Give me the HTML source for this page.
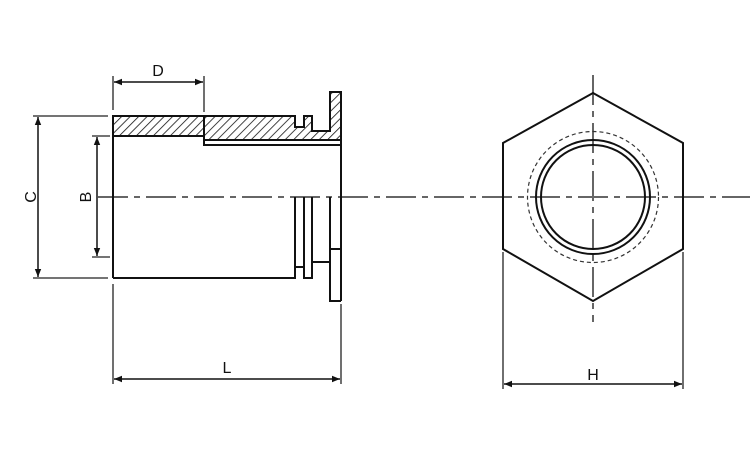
<!DOCTYPE html>
<html><head><meta charset="utf-8"><style>html,body{margin:0;padding:0;background:#fff}svg{display:block}</style></head><body>
<svg width="750" height="450" viewBox="0 0 750 450" xmlns="http://www.w3.org/2000/svg" font-family="Liberation Sans, sans-serif">
<defs>
<pattern id="h" patternUnits="userSpaceOnUse" width="6" height="6" patternTransform="rotate(45)">
<line x1="0" y1="0" x2="0" y2="6" stroke="#111" stroke-width="1.6"/></pattern>
<marker id="a" viewBox="0 0 10 10" refX="10" refY="5" markerWidth="14" markerHeight="8" markerUnits="userSpaceOnUse" orient="auto-start-reverse"><path d="M0,1 L10,5 L0,9z" fill="#111"/></marker>
</defs>
<g stroke="#666" stroke-width="2" stroke-dasharray="30,6,6,6">
<line x1="98" y1="197" x2="750" y2="197"/>
<line x1="593" y1="75" x2="593" y2="322"/>
</g>
<path d="M113,116 H295 V127 H304 V116 H312 V131 H330 V92 H341 V140 H204 V136 H113 Z" fill="url(#h)" stroke="#111" stroke-width="2"/>
<g fill="none" stroke="#111" stroke-width="2">
<rect x="204" y="140" width="137" height="5"/>
<line x1="204" y1="116" x2="204" y2="140"/>
<line x1="113" y1="136" x2="113" y2="278"/>
<line x1="341" y1="145" x2="341" y2="301"/>
<path d="M113,278 H295 V197"/>
<path d="M295,267 H304"/>
<path d="M304,197 V278 H312 V197"/>
<path d="M312,262 H330"/>
<path d="M330,197 V301 H341"/>
<path d="M330,249 H341"/>
<polygon points="593,93 683,143 683,249 593,301 503,249 503,143"/>
<circle cx="593" cy="197" r="57"/>
<circle cx="593" cy="197" r="52"/>
</g>
<circle cx="593" cy="197" r="65.5" fill="none" stroke="#333" stroke-width="1.2" stroke-dasharray="4,3"/>
<g stroke="#222" stroke-width="1.3">
<line x1="33" y1="116" x2="108" y2="116"/>
<line x1="33" y1="278" x2="108" y2="278"/>
<line x1="92" y1="136" x2="110" y2="136"/>
<line x1="92" y1="257" x2="110" y2="257"/>
<line x1="113" y1="76" x2="113" y2="110"/>
<line x1="204" y1="76" x2="204" y2="112"/>
<line x1="113" y1="284" x2="113" y2="384"/>
<line x1="341" y1="304" x2="341" y2="384"/>
<line x1="503" y1="252" x2="503" y2="389"/>
<line x1="683" y1="252" x2="683" y2="389"/>
</g>
<g stroke="#111" stroke-width="1.5" marker-start="url(#a)" marker-end="url(#a)">
<line x1="38" y1="117" x2="38" y2="277"/>
<line x1="97" y1="137" x2="97" y2="256"/>
<line x1="114" y1="82" x2="203" y2="82"/>
<line x1="114" y1="379" x2="340" y2="379"/>
<line x1="504" y1="384" x2="682" y2="384"/>
</g>
<g font-size="16" fill="#111" text-anchor="middle">
<text x="158" y="76">D</text>
<text x="227" y="373">L</text>
<text x="593" y="380">H</text>
<text transform="translate(36,197) rotate(-90)">C</text>
<text transform="translate(91,197) rotate(-90)">B</text>
</g>
</svg>
</body></html>
